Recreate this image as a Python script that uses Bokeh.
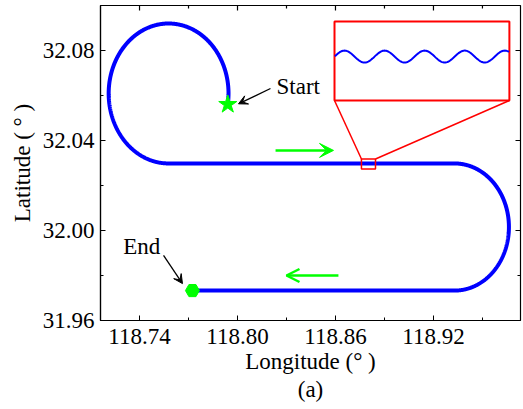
import numpy as np
from bokeh.plotting import figure
from bokeh.models import (FixedTicker, PrintfTickFormatter, Range1d,
                          Arrow, VeeHead, OpenHead, Title)
from bokeh.core.properties import value
from bokeh.embed import file_html
from bokeh.resources import INLINE

FONT = "Liberation Serif"
FS = "23px"

# ---- axes ----
x_ticks = [118.74, 118.80, 118.86, 118.92]
x_minor = [118.77, 118.83, 118.89, 118.95]
y_ticks = [31.96, 32.00, 32.04, 32.08]
y_minor = [31.98, 32.02, 32.06, 32.10]
x_lim = (118.7161, 118.9733)
y_lim = (31.96, 32.10)

# ---- trajectory geometry ----
loop_center_lon = 118.7578
loop_center_lat = 32.0609
loop_r_lat = 0.0311
start_angle_deg = -9.0
lat_top = 32.0298
turn_center_lon = 118.9329
lat_bottom = 31.9733
end_lon = 118.7724
wiggle_amp = 0.00034
wiggle_period = 0.00197

# ---- inset (zoom window) ----
small_box = dict(x0=118.8759, x1=118.8845, y0=32.0273, y1=32.0318)
inset_box = dict(x0=118.8594, x1=118.9665, y0=32.0578, y1=32.0929)

# ---- annotations ----
start_label = (118.8239, 32.0640)
end_label = (118.7300, 31.9929)
start_arrow = (118.8202, 32.0631, 118.8006, 32.0563)
end_arrow = (118.7547, 31.9889, 118.7663, 31.9764)
dir_arrow_top = (118.8233, 32.0356, 118.8588, 32.0356)
dir_arrow_bottom = (118.8618, 31.9800, 118.8300, 31.9800)

# ---- build path ----
def lon_r(r_lat, lat):
    return r_lat / np.cos(np.radians(lat))

th1 = np.radians(np.linspace(start_angle_deg, 270, 500))
arc1_lon = loop_center_lon + lon_r(loop_r_lat, loop_center_lat) * np.cos(th1)
arc1_lat = loop_center_lat + loop_r_lat * np.sin(th1)

top_lon = np.arange(loop_center_lon, turn_center_lon, 0.00004)
top_lat_nominal = np.full_like(top_lon, lat_top)
top_lat_wiggle = lat_top + wiggle_amp * np.sin(2 * np.pi * (top_lon - small_box["x0"]) / wiggle_period)

r2 = (lat_top - lat_bottom) / 2
c2_lat = lat_top - r2
th2 = np.radians(np.linspace(90, -90, 400))
arc2_lon = turn_center_lon + lon_r(r2, c2_lat) * np.cos(th2)
arc2_lat = c2_lat + r2 * np.sin(th2)

bot_lon = np.linspace(turn_center_lon, end_lon, 400)
bot_lat = np.full_like(bot_lon, lat_bottom)

path_lon = np.concatenate([arc1_lon, top_lon, arc2_lon, bot_lon])
path_lat = np.concatenate([arc1_lat, top_lat_nominal, arc2_lat, bot_lat])

p = figure(width=523, height=409, output_backend="svg", toolbar_location=None,
           x_range=Range1d(*x_lim), y_range=Range1d(*y_lim),
           min_border_left=100, min_border_right=3, min_border_top=5,
           min_border_bottom=89, background_fill_color="white",
           border_fill_color="white")
p.grid.visible = False
p.outline_line_color = "black"
p.outline_line_width = 1.2

# inset ranges mapping small box -> inset box
def inset_range(lo, hi, s0, s1, b0, b1):
    k = (s1 - s0) / (b1 - b0)
    return Range1d(s0 + (lo - b0) * k, s0 + (hi - b0) * k)

p.extra_x_ranges = {"inset": inset_range(x_lim[0], x_lim[1], small_box["x0"], small_box["x1"],
                                         inset_box["x0"], inset_box["x1"])}
p.extra_y_ranges = {"inset": inset_range(y_lim[0], y_lim[1], small_box["y0"], small_box["y1"],
                                         inset_box["y0"], inset_box["y1"])}

for ax in (p.xaxis[0], p.yaxis[0]):
    ax.major_tick_in = 5
    ax.major_tick_out = 0
    ax.minor_tick_in = 3
    ax.minor_tick_out = 0
    ax.axis_line_color = "black"
    ax.major_tick_line_color = "black"
    ax.minor_tick_line_color = "black"
    ax.axis_line_width = 1.2
    ax.major_label_text_font = FONT
    ax.major_label_text_font_size = FS
    ax.major_label_text_color = "black"
    ax.axis_label_text_font = FONT
    ax.axis_label_text_font_size = FS
    ax.axis_label_text_font_style = "normal"
    ax.axis_label_text_color = "black"
    ax.formatter = PrintfTickFormatter(format="%.2f")

p.xaxis.ticker = FixedTicker(ticks=x_ticks, minor_ticks=x_minor)
p.yaxis.ticker = FixedTicker(ticks=y_ticks, minor_ticks=y_minor)
p.xaxis.axis_label = "Longitude (° )"
p.yaxis.axis_label = "Latitude ( ° )"
p.xaxis.major_label_standoff = 8
p.yaxis.major_label_standoff = 6
p.xaxis.axis_label_standoff = 2
p.yaxis.axis_label_standoff = 5

# mirrored inward ticks on top and right edges
frame_w_px, frame_h_px = 420, 315
dx_px = (x_lim[1] - x_lim[0]) / frame_w_px
dy_px = (y_lim[1] - y_lim[0]) / frame_h_px
xt = x_ticks + x_minor
xl = [5] * len(x_ticks) + [3] * len(x_minor)
p.segment(x0=xt, y0=[y_lim[1]] * len(xt), x1=xt,
          y1=[y_lim[1] - l * dy_px for l in xl], line_color="black", line_width=1.2)
yt = y_ticks + y_minor
yl = [5] * len(y_ticks) + [3] * len(y_minor)
p.segment(x0=[x_lim[1]] * len(yt), y0=yt, x1=[x_lim[1] - l * dx_px for l in yl],
          y1=yt, line_color="black", line_width=1.2)

p.add_layout(Title(text="(a)", align="center", text_font=FONT, text_font_size=FS,
                   text_font_style="normal", text_color="black", standoff=0,
                   offset=0, vertical_align="top", text_line_height=1.0), "below")

# trajectory
p.line(path_lon, path_lat, line_color="#0000FF", line_width=4)

# direction arrows
p.add_layout(Arrow(end=VeeHead(size=14, fill_color="#00FF00", line_color="#00FF00"),
                   x_start=dir_arrow_top[0], y_start=dir_arrow_top[1],
                   x_end=dir_arrow_top[2], y_end=dir_arrow_top[3],
                   line_color="#00FF00", line_width=2.5))
p.add_layout(Arrow(end=OpenHead(size=13, line_color="#00FF00", line_width=2.5),
                   x_start=dir_arrow_bottom[0], y_start=dir_arrow_bottom[1],
                   x_end=dir_arrow_bottom[2], y_end=dir_arrow_bottom[3],
                   line_color="#00FF00", line_width=2.5))

# start / end markers
p.scatter([path_lon[0]], [path_lat[0]], marker="star", size=19,
          fill_color="#00FF00", line_color="#00FF00")
p.scatter([path_lon[-1]], [path_lat[-1]], marker="hex", size=14,
          fill_color="#00FF00", line_color="#00FF00")

# labels and black arrows
p.text([start_label[0]], [start_label[1]], text=["Start"], text_font=value(FONT),
       text_font_size=FS, text_baseline="alphabetic", text_align="left", text_color="black")
p.text([end_label[0]], [end_label[1]], text=["End"], text_font=value(FONT),
       text_font_size=FS, text_baseline="alphabetic", text_align="left", text_color="black")
for a in (start_arrow, end_arrow):
    p.add_layout(Arrow(end=VeeHead(size=9, fill_color="black", line_color="black"),
                       x_start=a[0], y_start=a[1], x_end=a[2], y_end=a[3],
                       line_color="black", line_width=1.3))

# inset
p.quad(left=[inset_box["x0"]], right=[inset_box["x1"]], bottom=[inset_box["y0"]],
       top=[inset_box["y1"]], fill_color="white", line_color="#FF0000", line_width=2)
p.quad(left=[small_box["x0"]], right=[small_box["x1"]], bottom=[small_box["y0"]],
       top=[small_box["y1"]], fill_color=None, line_color="#FF0000", line_width=1.5)
p.segment(x0=[inset_box["x0"], inset_box["x1"]], y0=[inset_box["y0"], inset_box["y0"]],
          x1=[small_box["x0"], small_box["x1"]], y1=[small_box["y1"], small_box["y1"]],
          line_color="#FF0000", line_width=1.5)

mask = (top_lon >= small_box["x0"]) & (top_lon <= small_box["x1"])
p.line(top_lon[mask], top_lat_wiggle[mask], x_range_name="inset", y_range_name="inset",
       line_color="#0000FF", line_width=2)

open("out.html", "w").write(file_html(p, INLINE))
